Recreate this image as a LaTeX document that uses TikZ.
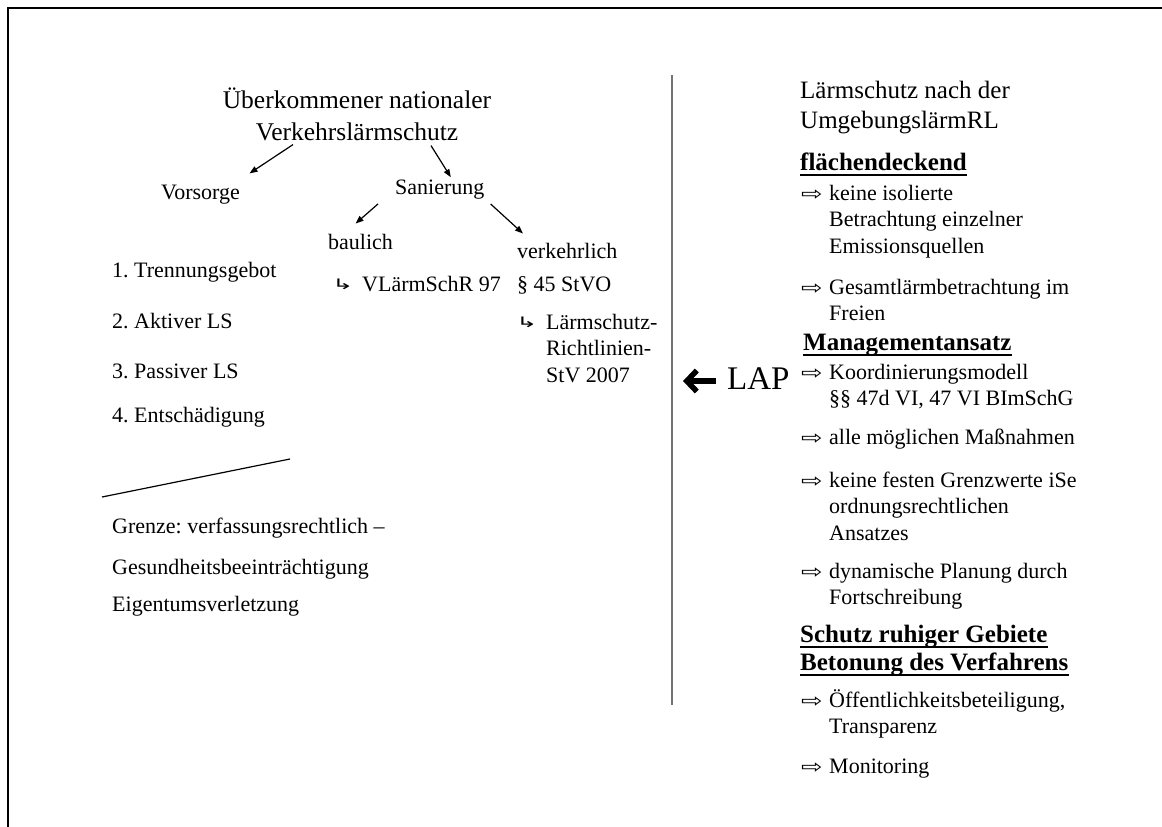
\documentclass[tikz,border=0pt]{standalone}
\usepackage{fontspec}
\usepackage{graphicx}
\setmainfont{Liberation Serif}
\newfontfamily\symfont{DejaVu Sans}
\usetikzlibrary{arrows.meta,calc}
\frenchspacing
\newcommand\wharr{\scalebox{1.35}[1]{⇨}}
\newcommand\hookglyph{\scalebox{1.5}[0.85]{↳}}
\tikzset{
  txt/.style={anchor=base west, inner sep=0pt, align=left, font=\fontsize{22}{26.5}\selectfont\frenchspacing},
  ttl/.style={anchor=base, inner sep=0pt, align=center, font=\fontsize{25.5}{32}\selectfont},
  hdr/.style={anchor=base west, inner sep=0pt, align=left, font=\fontsize{25}{30}\selectfont},
  head/.style={anchor=base west, inner sep=0pt, font=\fontsize{25}{30}\selectfont\bfseries},
  bul/.style={anchor=base west, inner sep=0pt, font=\symfont\fontsize{19}{20}\selectfont},
  hook/.style={anchor=base west, inner sep=0pt, font=\symfont\fontsize{17}{20}\selectfont},
  arr/.style={-{Triangle[length=8pt,width=6pt]}, line width=1.2pt},
  uline/.style={line width=2.6pt},
  frame/.style={line width=2.5pt},
  divider/.style={line width=1.3pt, black!55},
  bigarr/.style={line width=5.5pt, -{Straight Barb[length=10pt,width=21pt]}},
}
\begin{document}
\begin{tikzpicture}[x=1pt,y=-1pt]
\useasboundingbox (0,0) rectangle (1162,827);
\draw[frame] (8,840) -- (8,8) -- (1175,8);

% ---------- left part ----------
% (multi-line nodes are placed by the baseline of their last line)
\node[ttl] (tit) at (357,140) {Überkommener nationaler\\Verkehrslärmschutz};
\node[txt] (vor) at (161,199) {Vorsorge};
\node[txt] (san) at (395,194) {Sanierung};
\node[txt] (bau) at (328,249) {baulich};
\node[txt] (verk) at (517,258) {verkehrlich};
\node[hook] (hk1) at (332,289) {\hookglyph};
\node[txt] (vl) at (362,291) {VLärmSchR 97};
\node[txt] (stvo) at (517,291) {§ 45 StVO};
\node[hook] (hk2) at (516,327) {\hookglyph};
\node[txt] (lsr) at (546,382) {Lärmschutz-\\Richtlinien-\\StV 2007};

\draw[arr] ($(tit.south)+(-64,4)$) -- ($(vor.north)+(49,-11)$);
\draw[arr] ($(tit.south)+(74,5)$) -- ($(san.north)+(11,-2)$);
\draw[arr] ($(san.south west)+(-17,5)$) -- ($(bau.north)+(-5,-10)$);
\draw[arr] ($(san.south east)+(6,5)$) -- ($(verk.north west)+(6,-9)$);

\node[txt] (l1) at (112,277) {1. Trennungsgebot};
\node[txt] (l2) at (112,328) {2. Aktiver LS};
\node[txt] (l3) at (112,378) {3. Passiver LS};
\node[txt] (l4) at (112,422) {4. Entschädigung};

\coordinate (sepL) at (102,497);
\coordinate (sepR) at (290,459);
\draw[line width=1.2pt] (sepL) -- (sepR);

\node[txt] (g1) at (112,533) {Grenze: verfassungsrechtlich –};
\node[txt] (g2) at (112,574) {Gesundheitsbeeinträchtigung};
\node[txt] (g3) at (112,611) {Eigentumsverletzung};

% ---------- divider ----------
\coordinate (dvT) at (672,75);
\coordinate (dvB) at (672,705);
\draw[divider] (dvT) -- (dvB);

% ---------- LAP ----------
\node[anchor=base west, inner sep=0pt, font=\fontsize{33}{36}\selectfont] (lap) at (727,389) {LAP};
\draw[bigarr] ([xshift=-11pt,yshift=8pt]lap.base west) -- ++(-33,0);

% ---------- right part ----------
\node[hdr] (rh) at (800,128) {Lärmschutz nach der\\UmgebungslärmRL};

\node[head] (h1) at (800,170) {flächendeckend};
\draw[uline] ([yshift=-5pt]h1.base west) -- ([yshift=-5pt]h1.base east);

\node[bul] (k1) at (801,200) {\wharr};
\node[txt] (b1) at (829,253) {keine isolierte\\Betrachtung einzelner\\Emissionsquellen};
\node[bul] (k2) at (801,294) {\wharr};
\node[txt] (b2) at (829,320.5) {Gesamtlärmbetrachtung im\\Freien};

\node[head] (h2) at (803,350) {Managementansatz};
\draw[uline] ([yshift=-5pt]h2.base west) -- ([yshift=-5pt]h2.base east);

\node[bul] (k3) at (801,379) {\wharr};
\node[txt] (b3) at (829,405.5) {Koordinierungsmodell\\§§ 47d VI, 47 VI BImSchG};
\node[bul] (k4) at (801,444) {\wharr};
\node[txt] (b4) at (829,444) {alle möglichen Maßnahmen};
\node[bul] (k5) at (801,487) {\wharr};
\node[txt] (b5) at (829,540) {keine festen Grenzwerte iSe\\ordnungsrechtlichen\\Ansatzes};
\node[bul] (k6) at (801,578) {\wharr};
\node[txt] (b6) at (829,604.5) {dynamische Planung durch\\Fortschreibung};

\node[head] (h3) at (800,642) {Schutz ruhiger Gebiete};
\draw[uline] ([yshift=-5pt]h3.base west) -- ([yshift=-5pt]h3.base east);
\node[head] (h4) at (800,670) {Betonung des Verfahrens};
\draw[uline] ([yshift=-5pt]h4.base west) -- ([yshift=-5pt]h4.base east);

\node[bul] (k7) at (801,707) {\wharr};
\node[txt] (b7) at (829,733.5) {Öffentlichkeitsbeteiligung,\\Transparenz};
\node[bul] (k8) at (801,773) {\wharr};
\node[txt] (b8) at (829,773) {Monitoring};
\end{tikzpicture}
\end{document}
